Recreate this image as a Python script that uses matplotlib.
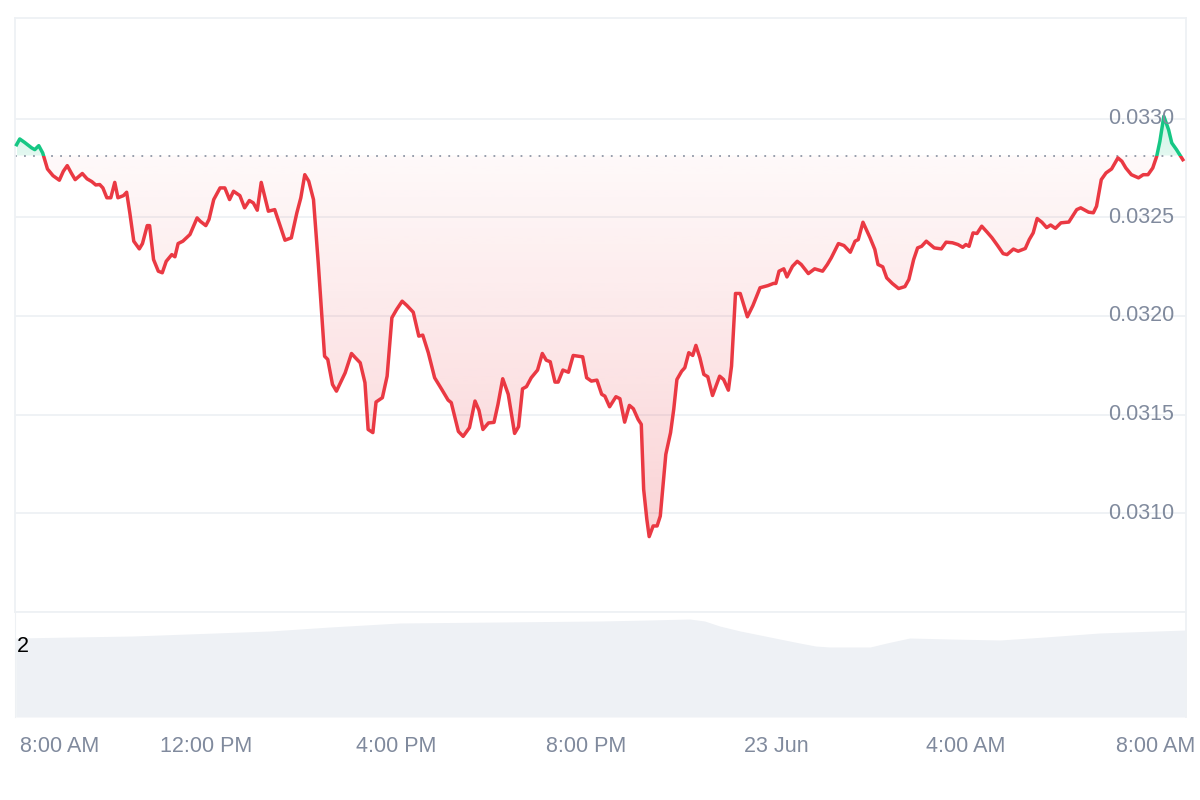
import numpy as np
import matplotlib
matplotlib.use('Agg')
import matplotlib.pyplot as plt
from matplotlib.path import Path
from matplotlib.patches import PathPatch, Rectangle
from matplotlib.colors import to_rgb
from matplotlib.transforms import ScaledTranslation

plt.rcParams['font.family'] = ['Liberation Sans', 'DejaVu Sans']

# minutes since 8:00 AM (22 Jun)
minutes = [
    1, 5, 11, 20, 24, 29, 34, 40, 47, 55,
    60, 65, 70, 75, 84, 90, 96, 101, 106, 110,
    115, 120, 125, 129, 136, 140, 144, 149, 156, 160,
    166, 169, 174, 180, 185, 190, 197, 201, 205, 211,
    220, 229, 233, 240, 244, 250, 258, 264, 270, 275,
    283, 289, 295, 300, 305, 310, 319, 327, 334, 340,
    348, 355, 360, 365, 370, 376, 382, 390, 394, 400,
    405, 416, 424, 429, 435, 441, 445, 451, 455, 463,
    469, 475, 481, 488, 494, 502, 509, 514, 521, 529,
    538, 546, 550, 559, 565, 573, 580, 585, 590, 597,
    604, 609, 615, 622, 630, 635, 640, 645, 651, 659,
    665, 670, 675, 681, 685, 691, 698, 704, 716, 721,
    727, 734, 740, 744, 750, 758, 763, 769, 775, 780,
    786, 790, 793, 797, 800, 805, 810, 814, 819, 821,
    827, 831, 835, 841, 845, 850, 855, 859, 864, 869,
    874, 880, 889, 894, 900, 904, 909, 915, 924, 931,
    940, 950, 957, 960, 964, 970, 974, 981, 987, 992,
    1001, 1009, 1019, 1025, 1030, 1039, 1046, 1054, 1060, 1064,
    1070, 1079, 1085, 1089, 1095, 1100, 1107, 1115, 1123, 1128,
    1134, 1139, 1144, 1150, 1155, 1160, 1169, 1175, 1183, 1190,
    1196, 1200, 1204, 1209, 1214, 1220, 1227, 1233, 1240, 1247,
    1252, 1260, 1266, 1275, 1280, 1285, 1290, 1296, 1302, 1307,
    1313, 1320, 1330, 1340, 1345, 1355, 1361, 1365, 1371, 1377,
    1384, 1392, 1397, 1402, 1409, 1418, 1424, 1430, 1436, 1441,
    1445, 1450, 1456, 1460, 1466, 1474,
]

# price in millionths of a dollar
price_e6 = [
    32868, 32897, 32880, 32852, 32843, 32863, 32826, 32745, 32711, 32688,
    32733, 32762, 32725, 32691, 32722, 32695, 32681, 32664, 32666, 32649,
    32599, 32599, 32677, 32599, 32610, 32627, 32523, 32379, 32340, 32367,
    32458, 32458, 32286, 32227, 32219, 32277, 32311, 32300, 32367, 32379,
    32413, 32497, 32480, 32458, 32489, 32590, 32649, 32649, 32590, 32632,
    32610, 32548, 32585, 32573, 32536, 32677, 32531, 32539, 32455, 32384,
    32396, 32523, 32599, 32716, 32683, 32590, 32269, 31796, 31780, 31653,
    31619, 31712, 31810, 31788, 31763, 31662, 31425, 31409, 31564, 31586,
    31695, 31991, 32033, 32075, 32053, 32019, 31898, 31903, 31814, 31687,
    31628, 31574, 31561, 31415, 31390, 31434, 31569, 31522, 31425, 31458,
    31461, 31552, 31682, 31603, 31405, 31439, 31631, 31642, 31687, 31726,
    31810, 31776, 31768, 31665, 31665, 31726, 31715, 31800, 31793, 31687,
    31670, 31675, 31603, 31594, 31540, 31591, 31581, 31462, 31547, 31530,
    31476, 31451, 31122, 30970, 30882, 30936, 30936, 30986, 31206, 31299,
    31409, 31527, 31678, 31720, 31738, 31814, 31800, 31851, 31788, 31704,
    31692, 31597, 31695, 31678, 31624, 31746, 32114, 32114, 31996, 32053,
    32143, 32154, 32165, 32165, 32227, 32239, 32198, 32252, 32277, 32261,
    32215, 32239, 32227, 32261, 32295, 32367, 32357, 32323, 32379, 32387,
    32475, 32396, 32337, 32261, 32249, 32193, 32165, 32139, 32149, 32185,
    32286, 32345, 32353, 32379, 32362, 32345, 32340, 32374, 32371, 32362,
    32348, 32362, 32353, 32421, 32418, 32455, 32424, 32396, 32357, 32316,
    32311, 32339, 32328, 32342, 32387, 32421, 32494, 32475, 32448, 32461,
    32444, 32472, 32476, 32539, 32548, 32526, 32523, 32556, 32691, 32725,
    32745, 32801, 32784, 32750, 32716, 32700, 32716, 32716, 32750, 32809,
    32885, 33012, 32944, 32877, 32843, 32792,
]

ref_price = 0.032813  # opening price, dotted line

# volume (smoothed), arbitrary units
vol_minutes = [0, 148, 321, 397, 485, 611, 738, 800, 851, 870, 889, 915, 940,
               965, 990, 1010, 1028, 1079, 1100, 1129, 1180, 1243, 1300, 1369, 1478]
volume = [79, 81, 86, 90, 94, 95, 96, 97, 98, 96, 91, 86, 82,
          78, 74, 71, 70, 70, 74, 79, 78, 77, 80, 84, 87]

grid_levels = [0.0305, 0.0310, 0.0315, 0.0320, 0.0325, 0.0330]
price_labels = [0.0310, 0.0315, 0.0320, 0.0325, 0.0330]
time_ticks = [0, 240, 480, 720, 960, 1200, 1440]
time_labels = ['8:00 AM', '12:00 PM', '4:00 PM', '8:00 PM', '23 Jun', '4:00 AM', '8:00 AM']

RED = '#ea3943'
GREEN = '#16c784'
GRID = '#eef1f4'
LABEL = '#808a9d'


def gradient_fill(ax, t, p, ref, color, below, a_ref, a_far, far):
    """Fill between the price line and ref with a vertical alpha gradient"""
    mask = p < ref if below else p > ref
    coll = ax.fill_between(t, p, ref, where=mask, interpolate=True,
                           facecolor='none', edgecolor='none')
    paths = [pp for pp in coll.get_paths() if len(pp.vertices) > 2]
    clip = PathPatch(Path.make_compound_path(*paths), transform=ax.transData,
                     facecolor='none', edgecolor='none')
    ax.add_patch(clip)
    n = 256
    img = np.zeros((n, 1, 4))
    img[:, 0, :3] = to_rgb(color)
    if below:
        img[:, 0, 3] = np.linspace(a_far, a_ref, n)
        ext = [t[0], t[-1], far, ref]
    else:
        img[:, 0, 3] = np.linspace(a_ref, a_far, n)
        ext = [t[0], t[-1], ref, far]
    im = ax.imshow(img, extent=ext, origin='lower', aspect='auto',
                   interpolation='bilinear', zorder=1)
    im.set_clip_path(clip)


t = np.array(minutes, dtype=float)
p = np.array(price_e6) / 1e6

fig = plt.figure(figsize=(12, 8), dpi=100)
fig.patch.set_facecolor('white')

ax = fig.add_axes([15 / 1200, 188 / 800, 1171 / 1200, 594 / 800])
axv = fig.add_axes([15 / 1200, 83 / 800, 1171 / 1200, 105 / 800])

xmin, xmax = -1, 1478
ymin, ymax = 0.0305, 0.03351

# gradient areas
gradient_fill(ax, t, p, ref_price, RED, True, 0.03, 0.26, ymin)
gradient_fill(ax, t, p, ref_price, GREEN, False, 0.12, 0.45, ymax)

# price line, red below the reference, green above
lo = Rectangle((xmin - 10, 0.029), xmax - xmin + 20, ref_price - 0.029,
               transform=ax.transData)
hi = Rectangle((xmin - 10, ref_price), xmax - xmin + 20, 0.035 - ref_price,
               transform=ax.transData)
line_r, = ax.plot(t, p, color=RED, lw=2.5, solid_joinstyle='round', zorder=3)
line_r.set_clip_path(lo)
line_g, = ax.plot(t, p, color=GREEN, lw=2.5, solid_joinstyle='round', zorder=3)
line_g.set_clip_path(hi)

ax.axhline(ref_price, color='#8f97a6', lw=1.3, linestyle=(0, (1, 4)), zorder=2)

# grid and frame
ax.set_xlim(xmin, xmax)
ax.set_ylim(ymin, ymax)
ax.set_yticks(grid_levels)
ax.yaxis.grid(True, color=GRID, lw=1.3)
ax.set_axisbelow(True)
ax.tick_params(length=0, labelleft=False, labelbottom=False)
ax.set_xticks([])
for s in ax.spines.values():
    s.set_color(GRID)
    s.set_linewidth(1.3)

for v in price_labels:
    ax.text(0.9898, v, f'{v:.4f}', transform=ax.get_yaxis_transform(),
            ha='right', va='center', color=LABEL, fontsize=15.5, zorder=5)

# volume panel
axv.fill_between(vol_minutes, volume, 0, color='#eef1f5', lw=0)
axv.set_xlim(xmin, xmax)
axv.set_ylim(0, 105)
axv.set_yticks([])
axv.set_xticks(time_ticks)
axv.set_xticklabels(time_labels)
axv.tick_params(axis='x', length=0, pad=13.5, labelsize=15.5, labelcolor=LABEL)
first = axv.get_xticklabels()[0]
first.set_ha('left')
first.set_transform(first.get_transform() + ScaledTranslation(4 / 100, 0, fig.dpi_scale_trans))
for side in ['top', 'bottom']:
    axv.spines[side].set_visible(False)
axv.spines['left'].set_color(GRID)
axv.spines['right'].set_color(GRID)
axv.spines['right'].set_linewidth(1.3)
axv.patch.set_alpha(0)

fig.text(17 / 1200, 1 - 646 / 800, '2', ha='left', va='center',
         fontsize=15.5, color='black')

fig.savefig('out.png', dpi=100, facecolor='white')
plt.close(fig)
